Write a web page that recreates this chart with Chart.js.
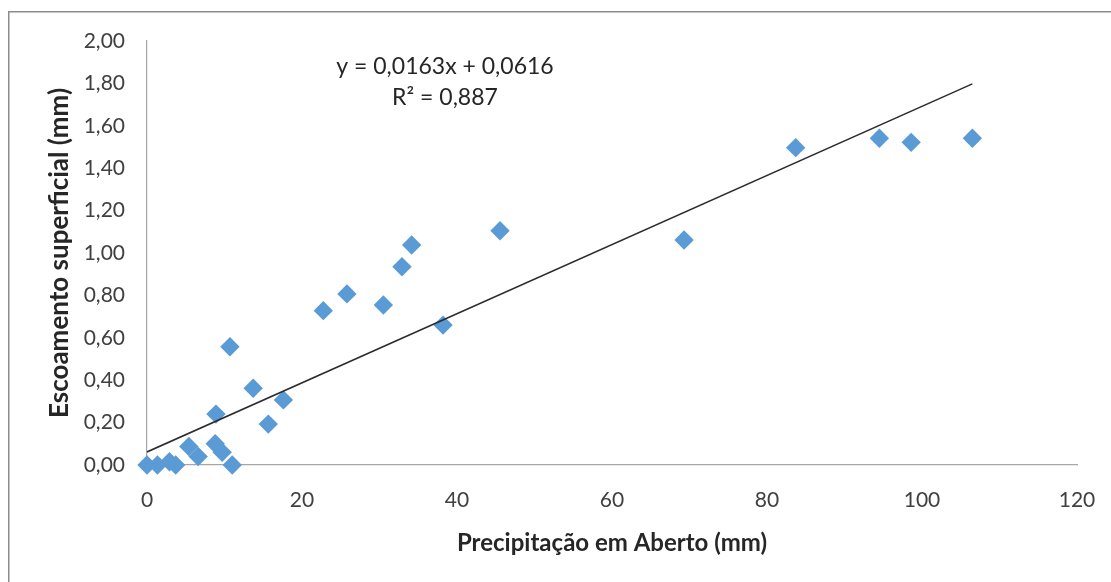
<!DOCTYPE html>
<html lang="pt">
<head>
<meta charset="utf-8">
<script src="https://cdn.jsdelivr.net/npm/chart.js@4.4.1/dist/chart.umd.min.js"></script>
<style>
  html, body { margin: 0; padding: 0; background: #ffffff; }
  #wrap { position: relative; width: 1111px; height: 582px; }
</style>
</head>
<body>
<div id="wrap"><canvas id="chart" width="1111" height="582"></canvas></div>
<script>
// Precipitação em aberto (mm) e escoamento superficial (mm) por evento
const precipitacao = [0, 1.35, 2.9, 3.7, 5.4, 6.6, 8.8, 9.7, 8.9, 10.7, 11.0, 13.7, 15.65, 17.6,
  22.75, 25.8, 30.5, 32.9, 34.15, 38.2, 45.55, 69.3, 83.7, 94.5, 98.6, 106.5];
const escoamento = [0.00, 0.00, 0.015, 0.00, 0.087, 0.04, 0.10, 0.06, 0.24, 0.558, 0.00, 0.362, 0.193, 0.307,
  0.728, 0.807, 0.755, 0.935, 1.038, 0.660, 1.105, 1.061, 1.497, 1.541, 1.522, 1.541];

// Linha de tendência linear
const inclinacao = 0.0163;
const intercepto = 0.0616;
const r2 = 0.887;

const xTicks = [0, 20, 40, 60, 80, 100, 120];
const yTicks = [0, 0.2, 0.4, 0.6, 0.8, 1.0, 1.2, 1.4, 1.6, 1.8, 2.0];

const fmt = v => v.toFixed(2).replace('.', ',');
const pontos = precipitacao.map((x, i) => ({ x: x, y: escoamento[i] }));
const xMax = Math.max(...precipitacao);
const tendencia = [0, xMax].map(x => ({ x: x, y: intercepto + inclinacao * x }));

const FONT = "Lato, 'Open Sans', sans-serif";

const molduraPlugin = {
  id: 'moldura',
  beforeDraw(chart) {
    const ctx = chart.ctx;
    ctx.save();
    ctx.fillStyle = '#ffffff';
    ctx.fillRect(0, 0, chart.width, chart.height);
    ctx.strokeStyle = '#8c8c8c';
    ctx.lineWidth = 1.5;
    ctx.beginPath();
    ctx.moveTo(8.75, chart.height);
    ctx.lineTo(8.75, 11.75);
    ctx.lineTo(chart.width, 11.75);
    ctx.stroke();
    ctx.restore();
  }
};

const equacaoPlugin = {
  id: 'equacao',
  afterDraw(chart) {
    const ctx = chart.ctx;
    ctx.save();
    ctx.fillStyle = '#262626';
    ctx.font = '23px ' + FONT;
    ctx.textAlign = 'center';
    ctx.textBaseline = 'middle';
    ctx.fillText('y = ' + inclinacao.toFixed(4).replace('.', ',') + 'x + ' + intercepto.toFixed(4).replace('.', ','), 445, 67);
    ctx.fillText('R\u00B2 = ' + r2.toFixed(3).replace('.', ','), 445, 98);
    ctx.restore();
  }
};

new Chart(document.getElementById('chart'), {
  type: 'scatter',
  data: {
    datasets: [
      {
        label: 'Tendência',
        data: tendencia,
        showLine: true,
        borderColor: '#2b2b2b',
        borderWidth: 1.5,
        pointRadius: 0,
        fill: false,
        order: 0
      },
      {
        label: 'Escoamento',
        data: pontos,
        pointStyle: 'rectRot',
        pointRadius: 9.7,
        pointHoverRadius: 9.7,
        backgroundColor: '#5b9bd5',
        borderColor: '#5b9bd5',
        borderWidth: 0,
        clip: false,
        order: 1
      }
    ]
  },
  plugins: [molduraPlugin, equacaoPlugin],
  options: {
    responsive: false,
    animation: false,
    devicePixelRatio: 1,
    layout: { padding: { left: 0, top: 41, right: 34, bottom: 0 } },
    plugins: { legend: { display: false }, tooltip: { enabled: false } },
    scales: {
      x: {
        type: 'linear',
        min: 0,
        max: 120,
        afterBuildTicks: s => { s.ticks = xTicks.map(v => ({ value: v })); },
        afterFit: s => { s.height = 117; s.paddingLeft = 0; s.paddingRight = 0; },
        grid: { display: false, drawTicks: false },
        border: { display: true, color: '#a6a6a6', width: 1.2 },
        ticks: {
          padding: 23,
          color: '#404040',
          font: { family: FONT, size: 21 },
          maxRotation: 0
        },
        title: {
          display: true,
          text: 'Precipitação em Aberto (mm)',
          color: '#262626',
          font: { family: FONT, size: 24, weight: 'bold' },
          padding: { top: 0, bottom: 24 }
        }
      },
      y: {
        type: 'linear',
        min: 0,
        max: 2,
        afterBuildTicks: s => { s.ticks = yTicks.map(v => ({ value: v })); },
        afterFit: s => { s.width = 147; s.paddingTop = 0; s.paddingBottom = 0; },
        grid: { display: false, drawTicks: false },
        border: { display: true, color: '#a6a6a6', width: 1.2 },
        ticks: {
          padding: 22,
          color: '#404040',
          font: { family: FONT, size: 21 },
          callback: v => fmt(v)
        },
        title: {
          display: true,
          text: 'Escoamento superficial (mm)',
          color: '#262626',
          font: { family: FONT, size: 26, weight: 'bold' },
          padding: { top: 44, bottom: 0 }
        }
      }
    }
  }
});
</script>
</body>
</html>
